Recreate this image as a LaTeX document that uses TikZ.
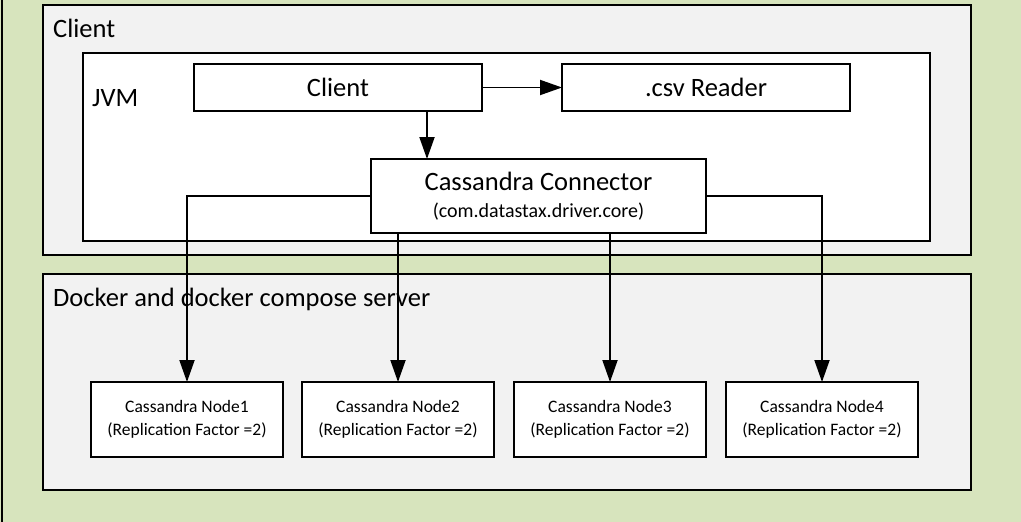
\documentclass[tikz,border=0pt]{standalone}
\usepackage{fontspec}
\setmainfont{Carlito}
\usetikzlibrary{arrows.meta,calc}
\definecolor{bggreen}{HTML}{D7E4BD}
\definecolor{boxgray}{HTML}{F2F2F2}
\tikzset{
  frame/.style={draw=black,line width=1.9pt,inner sep=0pt,outer sep=0pt,anchor=north west},
  container/.style={frame,fill=boxgray},
  whitebox/.style={frame,fill=white},
  lbl/.style={anchor=base west,inner sep=0pt,font=\fontsize{26.5}{30}\selectfont},
  conn/.style={draw=black,line width=1.9pt,-{Triangle[length=22pt,width=15pt]}},
  cnode/.style={whitebox,minimum width=192pt,minimum height=75pt,align=center,font=\fontsize{17.5}{23}\selectfont}
}
\begin{document}
\begin{tikzpicture}[x=1pt,y=-1pt]
\fill[bggreen] (0,0) rectangle (1021,522);
\useasboundingbox (0,0) rectangle (1021,522);
\draw[line width=1.9pt] (2,0) -- (2,522);
% containers
\node[container,minimum width=928pt,minimum height=250pt] (clientbox) at (43,5) {};
\node[lbl] (clientlbl) at (53,37) {Client};
\node[whitebox,minimum width=847pt,minimum height=188pt] (jvm) at (83,53) {};
\node[lbl] (jvmlbl) at (92,106) {JVM};
\node[container,minimum width=928pt,minimum height=216pt] (docker) at (43,274) {};
\node[lbl] (dockerlbl) at (53,306) {Docker and docker compose server};
% inner boxes
\node[whitebox,minimum width=288pt,minimum height=47pt,font=\fontsize{26.5}{30}\selectfont] (client) at (194,64) {Client};
\node[whitebox,minimum width=288pt,minimum height=47pt,font=\fontsize{26.5}{30}\selectfont] (csv) at (562,64) {.csv Reader};
\node[whitebox,minimum width=335pt,minimum height=74pt,align=center] (cc) at (371,159)
  {\fontsize{26.5}{30}\selectfont Cassandra Connector\\[11pt]\fontsize{20}{24}\selectfont (com.datastax.driver.core)};
\node[cnode] (n1) at (91,382) {Cassandra Node1\\(Replication Factor =2)};
\node[cnode] (n2) at (302,382) {Cassandra Node2\\(Replication Factor =2)};
\node[cnode] (n3) at (514,382) {Cassandra Node3\\(Replication Factor =2)};
\node[cnode] (n4) at (726,382) {Cassandra Node4\\(Replication Factor =2)};
% connectors
\draw[conn] (client.east) -- (csv.west);
\draw[conn] ([xshift=89pt]client.south) -- ([xshift=89pt]client.south |- cc.north);
\draw[conn] (cc.west) -| (n1.north);
\draw[conn] (cc.south -| n2.north) -- (n2.north);
\draw[conn] (cc.south -| n3.north) -- (n3.north);
\draw[conn] (cc.east) -| (n4.north);
\end{tikzpicture}
\end{document}
